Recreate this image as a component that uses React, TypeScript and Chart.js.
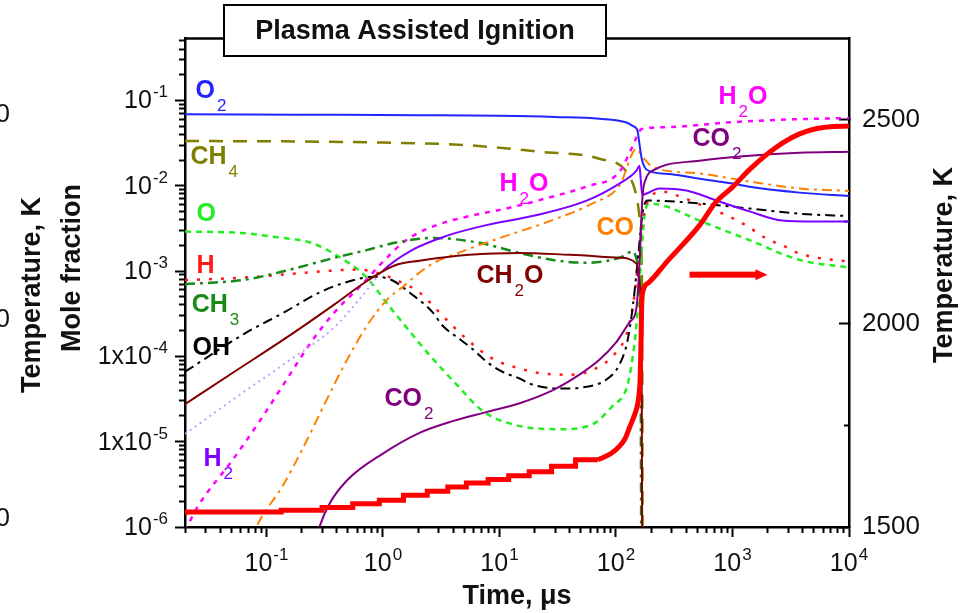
import { useEffect, useRef } from "react";
import { Chart, registerables } from "chart.js";

Chart.register(...registerables);

const FONT = "Arial, 'Liberation Sans', Helvetica, sans-serif";
const INK = "#111111";

type Pt = [number, number];

// Axis ranges: time in µs (log), mole fraction (log), temperature in K (linear)
const TIME_MIN = 0.02;
const TIME_MAX = 1e4;
const FRACTION_MIN = 1e-6;
const FRACTION_MAX = 0.53;
const TEMP_MIN = 1500;
const TEMP_MAX = 2700;

// Power-of-ten tick labels are written as base + superscript exponent
const timeTicks = [0.1, 1, 10, 100, 1000, 10000];
const timeTickBase = ["10", "10", "10", "10", "10", "10"];
const timeTickExp = ["-1", "0", "1", "2", "3", "4"];
const fractionTicks = [1e-6, 1e-5, 1e-4, 1e-3, 1e-2, 1e-1];
const fractionTickBase = ["10", "1x10", "1x10", "10", "10", "10"];
const fractionTickExp = ["-6", "-5", "-4", "-3", "-2", "-1"];
const tempTicks = [1500, 2000, 2500];
const tempTickLabels = ["1500", "2000", "2500"];
const tempMinorTicks = [1750, 2250];

// Species mole fractions: [time µs, mole fraction]
const o2: Pt[] = [
  [0.02, 0.069], [0.2, 0.068], [2, 0.067], [10, 0.066], [30, 0.064], [72, 0.061],
  [123, 0.055], [140, 0.05], [153, 0.044], [159, 0.031], [166, 0.021], [176, 0.0165],
  [194, 0.0148], [300, 0.0136], [521, 0.0121], [1000, 0.0106], [1400, 0.0097],
  [3760, 0.0083], [10000, 0.0076],
];
const ch4: Pt[] = [
  [0.02, 0.0334], [0.2, 0.033], [1, 0.032], [5, 0.03], [22, 0.025], [72, 0.0207],
  [126, 0.0139], [150, 0.0075], [159, 0.0044], [165, 0.0018], [168, 1e-4], [170, 1e-8],
];
const o: Pt[] = [
  [0.02, 0.0029], [0.06, 0.0028], [0.12, 0.0025], [0.243, 0.00214], [0.406, 0.00151],
  [0.693, 0.00089], [1.18, 0.00036], [1.47, 0.00025], [2.5, 0.000104], [4.27, 4.7e-5],
  [7.15, 2.3e-5], [12.9, 1.6e-5], [32.7, 1.4e-5], [62.8, 1.6e-5], [93, 2.6e-5],
  [123, 4.2e-5], [135, 7.5e-5], [145, 1.5e-4], [155, 4e-4], [165, 0.0015], [176, 0.0045],
  [194, 0.0062], [260, 0.0058], [521, 0.0039], [1400, 0.0023], [3760, 0.00135],
  [10000, 0.0011],
];
const h: Pt[] = [
  [0.02, 0.00078], [0.065, 0.00084], [0.143, 0.00091], [0.361, 0.00101], [0.604, 0.00104],
  [0.9, 0.00095], [1.31, 0.00078], [2.06, 0.00056], [3.24, 0.0003], [5.21, 0.00016],
  [8.71, 9.4e-5], [14.9, 7.2e-5], [23.4, 6.3e-5], [42.4, 6.1e-5], [76.6, 8e-5],
  [101, 0.000113], [123, 0.00018], [140, 0.0004], [155, 0.0012], [170, 0.004],
  [200, 0.0075], [250, 0.0085], [350, 0.0075], [636, 0.0054], [888, 0.0045],
  [1318, 0.0034], [1958, 0.0024], [2909, 0.0019], [3760, 0.0016], [5930, 0.0014],
  [10000, 0.0013],
];
const ch3: Pt[] = [
  [0.02, 0.0007], [0.065, 0.00079], [0.143, 0.001], [0.384, 0.00143], [0.736, 0.00177],
  [1.26, 0.00214], [2.66, 0.00244], [6.73, 0.00214], [14.9, 0.00163], [28.5, 0.00135],
  [55.8, 0.00125], [107, 0.00143], [140, 0.0017], [155, 0.0012], [162, 3e-4], [166, 1e-8],
];
const oh: Pt[] = [
  [0.02, 6.6e-5], [0.065, 1.85e-4], [0.143, 3.3e-4], [0.285, 5.6e-4], [0.5, 7.5e-4],
  [0.85, 8.6e-4], [1.2, 7.8e-4], [1.69, 5.6e-4], [2.66, 3.3e-4], [3.24, 2.3e-4],
  [4.53, 1.6e-4], [5.86, 1.22e-4], [7.8, 8.6e-5], [10.6, 6.6e-5], [14.9, 5.5e-5],
  [18.1, 4.8e-5], [32.7, 4.2e-5], [55.8, 4.4e-5], [83, 5.35e-5], [107, 8e-5],
  [125, 1.48e-4], [140, 4e-4], [155, 0.0015], [170, 0.005], [186, 0.0067],
  [521, 0.0062], [1400, 0.0054], [3760, 0.0047], [10000, 0.0044],
];
const h2: Pt[] = [
  [0.02, 1.23e-5], [0.053, 3.2e-5], [0.143, 8.2e-5], [0.384, 2.2e-4], [0.63, 4.7e-4],
  [1.0, 1.01e-3], [1.79, 1.77e-3], [3.5, 2.58e-3], [7.7, 3.45e-3], [20.5, 4.5e-3],
  [56, 6.7e-3], [107, 0.0106], [150, 0.015], [159, 0.0171], [163, 0.012], [168, 0.0078],
  [183, 0.0081], [236, 0.0093], [403, 0.0088], [729, 0.0067], [1400, 0.005],
  [2685, 0.0039], [5000, 0.0038], [10000, 0.0038],
];
// H2 is drawn dotted up to this time, solid afterwards
const h2DottedUntil = 1.0;
const h2o: Pt[] = [
  [0.02, 9e-7], [0.0255, 1.7e-6], [0.053, 6.5e-6], [0.091, 1.89e-5], [0.151, 5.5e-5],
  [0.243, 1.48e-4], [0.384, 3.29e-4], [0.65, 6.8e-4], [1.09, 1.45e-3], [1.59, 2.31e-3],
  [2.88, 3.45e-3], [5.5, 4.4e-3], [11.4, 5.4e-3], [25, 7.1e-3], [56, 9.8e-3],
  [107, 0.0145], [138, 0.0285], [166, 0.0461], [272, 0.0486], [1000, 0.0556],
  [3760, 0.0603], [10000, 0.062],
];
const co: Pt[] = [
  [0.07, 6e-7], [0.082, 1e-6], [0.091, 1.31e-6], [0.135, 2.9e-6], [0.2, 7.8e-6],
  [0.315, 2.75e-5], [0.467, 8e-5], [0.736, 2.33e-4], [1.09, 4.66e-4], [1.39, 6.1e-4],
  [2.5, 1.16e-3], [5.2, 1.77e-3], [11.4, 2.58e-3], [28.5, 3.95e-3], [62.8, 6.2e-3],
  [107, 0.01], [150, 0.027], [169, 0.0218], [206, 0.0167], [521, 0.0139],
  [1400, 0.0112], [3760, 0.0093], [10000, 0.0087],
];
const ch2o: Pt[] = [
  [0.02, 2.75e-5], [0.053, 6.6e-5], [0.143, 1.6e-4], [0.384, 4.07e-4], [0.736, 7.7e-4],
  [1.26, 1.16e-3], [2.06, 1.32e-3], [5.5, 1.55e-3], [14.9, 1.63e-3], [40, 1.55e-3],
  [107, 1.43e-3], [150, 1.22e-3], [159, 7.3e-4], [166, 1.1e-4], [169, 1e-8],
];
const co2: Pt[] = [
  [0.25, 5e-7], [0.285, 1e-6], [0.35, 1.9e-6], [0.5, 3.6e-6], [0.99, 7.2e-6],
  [2.06, 1.27e-5], [3.95, 1.74e-5], [7.7, 2.22e-5], [14.9, 2.82e-5], [28.5, 3.99e-5],
  [48.6, 6.1e-5], [72, 9.1e-5], [101, 1.48e-4], [131, 2.52e-4], [150, 3.76e-4],
  [159, 1.19e-3], [169, 7.5e-3], [181, 0.0121], [206, 0.015], [521, 0.0196],
  [1400, 0.0224], [3760, 0.0243], [10000, 0.025],
];

// Gas temperature, K: staircase before ignition, then the ignition rise
const tempStaircase: Pt[] = [
  [0.02, 1529], [0.134, 1537], [0.3, 1541], [0.55, 1548], [0.93, 1557], [1.5, 1566],
  [2.4, 1578], [3.6, 1588], [5.2, 1598], [8, 1608], [12, 1617], [18, 1626], [28, 1636],
  [45, 1649], [70, 1665],
];
const tempRise: Pt[] = [
  [70, 1665], [90, 1680], [107, 1698], [120, 1718], [131, 1745], [142, 1770], [150, 1790],
  [157, 1820], [161, 1860], [164, 1950], [166, 2040], [169, 2075], [190, 2100],
  [272, 2151], [521, 2241], [720, 2298], [1000, 2335], [1400, 2378], [1958, 2415],
  [2700, 2444], [3760, 2466], [5300, 2479], [7300, 2484], [10000, 2485],
];

// Arrow pointing at the temperature axis
const tempArrow = { from: 428, to: 1995, temp: 2120 };

const COLORS = {
  o2: "#2424ff",
  ch4: "#808000",
  o: "#22ee22",
  h: "#ff1a1a",
  ch3: "#178a17",
  oh: "#000000",
  h2: "#8000ff",
  h2Dotted: "#b7a3ff",
  h2o: "#ff00ff",
  co: "#ff8000",
  ch2o: "#800000",
  co2: "#800080",
  temp: "#ff0000",
};

type Label = { parts: [string, boolean][]; t: number; v: number; color: string };
// Species names placed at (time, mole fraction); "true" marks a subscript
const speciesLabels: Label[] = [
  { parts: [["O", false], ["2", true]], t: 0.0246, v: 0.108, color: COLORS.o2 },
  { parts: [["CH", false], ["4", true]], t: 0.0223, v: 0.0181, color: COLORS.ch4 },
  { parts: [["O", false]], t: 0.0251, v: 0.00385, color: COLORS.o },
  { parts: [["H", false]], t: 0.0251, v: 0.000957, color: COLORS.h },
  { parts: [["CH", false], ["3", true]], t: 0.0228, v: 0.000329, color: COLORS.ch3 },
  { parts: [["OH", false]], t: 0.0232, v: 0.000105, color: COLORS.oh },
  { parts: [["H", false], ["2", true]], t: 0.0288, v: 5.24e-6, color: COLORS.h2 },
  { parts: [["H", false], ["2", true], ["O", false]], t: 10, v: 0.00857, color: COLORS.h2o },
  { parts: [["H", false], ["2", true], ["O", false]], t: 759, v: 0.09, color: COLORS.h2o },
  { parts: [["CO", false], ["2", true]], t: 454, v: 0.0292, color: COLORS.co2 },
  { parts: [["CO", false]], t: 68, v: 0.00264, color: COLORS.co },
  { parts: [["CH", false], ["2", true], ["O", false]], t: 6.35, v: 0.00073, color: COLORS.ch2o },
  { parts: [["CO", false], ["2", true]], t: 1.03, v: 2.6e-5, color: COLORS.co2 },
];

function logMinorTicks(min: number, max: number): number[] {
  const out: number[] = [];
  for (let e = Math.floor(Math.log10(min)); e <= Math.ceil(Math.log10(max)); e++) {
    for (let m = 2; m <= 9; m++) {
      const v = m * Math.pow(10, e);
      if (v >= min * 0.999 && v <= max * 1.001) out.push(v);
    }
  }
  return out;
}

const toXY = (pts: Pt[]) => pts.map(([x, y]) => ({ x, y }));

function series(label: string, pts: Pt[], color: string, yAxisID: string, extra: any = {}) {
  return {
    label,
    data: toXY(pts),
    borderColor: color,
    backgroundColor: color,
    borderWidth: 2,
    pointRadius: 0,
    fill: false,
    cubicInterpolationMode: "monotone",
    xAxisID: "x",
    yAxisID,
    ...extra,
  };
}

const setTicks = (values: number[]) => (scale: any) => {
  scale.ticks = values.map((value) => ({ value }));
};

const tickGrid = (len: number) => ({
  drawOnChartArea: false,
  drawTicks: true,
  tickLength: len,
  tickWidth: 2,
  tickColor: "#000",
});

// "10" followed by a raised exponent
function drawPower(ctx: any, base: string, exp: string, x: number, y: number, align: "center" | "right") {
  ctx.font = `25px ${FONT}`;
  const wb = ctx.measureText(base).width;
  ctx.font = `17px ${FONT}`;
  const we = ctx.measureText(exp).width;
  const total = wb + 1 + we;
  const start = align === "center" ? x - total / 2 : x - total;
  ctx.font = `25px ${FONT}`;
  ctx.fillText(base, start, y);
  ctx.font = `17px ${FONT}`;
  ctx.fillText(exp, start + wb + 1, y - 11);
}

const speciesLabelPlugin = {
  id: "speciesLabels",
  beforeDatasetsDraw(chart: any) {
    const { ctx, scales } = chart;
    ctx.save();
    ctx.textAlign = "left";
    ctx.textBaseline = "alphabetic";
    for (const lab of speciesLabels) {
      let px = scales.x.getPixelForValue(lab.t);
      const py = scales.y.getPixelForValue(lab.v);
      ctx.fillStyle = lab.color;
      for (const [txt, sub] of lab.parts) {
        ctx.font = sub ? `17px ${FONT}` : `bold 25px ${FONT}`;
        ctx.fillText(txt, px, sub ? py + 13 : py);
        px += ctx.measureText(txt).width + (sub ? 0 : 2);
      }
    }
    ctx.restore();
  },
};

const decorPlugin = {
  id: "decor",
  afterDatasetsDraw(chart: any) {
    const { ctx, chartArea, scales } = chart;
    ctx.save();
    // top edge of the plot frame
    ctx.strokeStyle = "#000";
    ctx.lineWidth = 2.5;
    ctx.beginPath();
    ctx.moveTo(chartArea.left - 1, chartArea.top);
    ctx.lineTo(chartArea.right + 1, chartArea.top);
    ctx.stroke();

    // arrow towards the temperature axis
    const x1 = scales.x.getPixelForValue(tempArrow.from);
    const x2 = scales.x.getPixelForValue(tempArrow.to);
    const ya = scales.yT.getPixelForValue(tempArrow.temp);
    ctx.fillStyle = COLORS.temp;
    ctx.fillRect(x1, ya - 3, x2 - x1 - 10, 6);
    ctx.beginPath();
    ctx.moveTo(x2 - 12, ya - 5.5);
    ctx.lineTo(x2, ya);
    ctx.lineTo(x2 - 12, ya + 5.5);
    ctx.closePath();
    ctx.fill();
    ctx.restore();
  },
  afterDraw(chart: any) {
    const { ctx, scales } = chart;
    ctx.save();
    ctx.fillStyle = INK;
    ctx.textBaseline = "alphabetic";
    ctx.textAlign = "left";

    // tick labels of the two logarithmic axes
    timeTicks.forEach((v, i) => {
      drawPower(ctx, timeTickBase[i], timeTickExp[i], scales.x.getPixelForValue(v), 571, "center");
    });
    fractionTicks.forEach((v, i) => {
      drawPower(ctx, fractionTickBase[i], fractionTickExp[i], 168, scales.y.getPixelForValue(v) + 8, "right");
    });

    // title box
    ctx.fillStyle = "#fff";
    ctx.fillRect(224, 5, 382, 51);
    ctx.strokeStyle = "#000";
    ctx.lineWidth = 2;
    ctx.strokeRect(224, 5, 382, 51);
    ctx.fillStyle = INK;
    ctx.font = `bold 27px ${FONT}`;
    ctx.textAlign = "center";
    ctx.fillText("Plasma Assisted Ignition", 415, 39);

    // vertical axis titles (read bottom to top)
    const vtitle = (text: string, x: number, y: number) => {
      ctx.save();
      ctx.translate(x, y);
      ctx.rotate(-Math.PI / 2);
      ctx.fillText(text, 0, 0);
      ctx.restore();
    };
    vtitle("Mole fraction", 80, 268);
    vtitle("Temperature, K", 952, 265);
    // temperature axis of the neighbouring panel, cut at the page edge
    vtitle("Temperature, K", 40, 295);
    ctx.font = `26px ${FONT}`;
    ctx.textAlign = "right";
    ctx.textBaseline = "middle";
    ctx.fillText("2500", 10, 115);
    ctx.fillText("2000", 10, 320);
    ctx.fillText("1500", 10, 519);
    ctx.restore();
  },
};

function buildConfig(): any {
  const timeMinor = logMinorTicks(TIME_MIN, TIME_MAX);
  const fractionMinor = logMinorTicks(FRACTION_MIN, FRACTION_MAX);

  return {
    type: "line",
    data: {
      datasets: [
        series("T", tempStaircase, COLORS.temp, "yT", { borderWidth: 5, stepped: "after", cubicInterpolationMode: "default" }),
        series("T rise", tempRise, COLORS.temp, "yT", { borderWidth: 5 }),
        series("CO2", co2, COLORS.co2, "y"),
        series("CH2O", ch2o, COLORS.ch2o, "y"),
        series("O2", o2, COLORS.o2, "y"),
        series("H2", h2, COLORS.h2, "y", {
          segment: {
            borderColor: (c: any) => (h2[c.p1DataIndex][0] <= h2DottedUntil ? COLORS.h2Dotted : undefined),
            borderDash: (c: any) => (h2[c.p1DataIndex][0] <= h2DottedUntil ? [2, 4] : undefined),
          },
        }),
        series("CO", co, COLORS.co, "y", { borderDash: [10, 5, 3, 5] }),
        series("OH", oh, COLORS.oh, "y", { borderDash: [10, 5, 3, 5] }),
        series("CH3", ch3, COLORS.ch3, "y", { borderDash: [10, 5, 3, 5], borderWidth: 2.5 }),
        series("H", h, COLORS.h, "y", { borderDash: [3, 9], borderWidth: 2.5 }),
        series("O", o, COLORS.o, "y", { borderDash: [6, 5], borderWidth: 2.5 }),
        series("H2O", h2o, COLORS.h2o, "y", { borderDash: [5, 6], borderWidth: 2.5 }),
        series("CH4", ch4, COLORS.ch4, "y", { borderDash: [14, 10], borderWidth: 2.5 }),
      ],
    },
    options: {
      responsive: false,
      animation: false,
      devicePixelRatio: 1,
      events: [],
      layout: { padding: { top: 34, left: 0, right: 0, bottom: 0 } },
      plugins: { legend: { display: false }, tooltip: { enabled: false }, title: { display: false } },
      scales: {
        x: {
          type: "logarithmic",
          position: "bottom",
          min: TIME_MIN,
          max: TIME_MAX,
          weight: 1,
          afterBuildTicks: setTicks(timeTicks),
          afterFit: (s: any) => { s.height = 86; },
          ticks: { display: false, autoSkip: false, maxRotation: 0, minRotation: 0 },
          grid: tickGrid(10),
          border: { display: true, color: "#000", width: 2.5 },
          title: {
            display: true, text: "Time, μs", color: INK,
            font: { family: FONT, size: 27, weight: "bold" }, padding: { top: 0, bottom: 0 },
          },
        },
        xMinor: {
          type: "logarithmic",
          position: "bottom",
          display: true,
          min: TIME_MIN,
          max: TIME_MAX,
          weight: 0,
          afterBuildTicks: setTicks(timeMinor),
          afterFit: (s: any) => { s.height = 0; },
          ticks: { display: false, autoSkip: false },
          grid: tickGrid(6),
          border: { display: false },
        },
        y: {
          type: "logarithmic",
          position: "left",
          min: FRACTION_MIN,
          max: FRACTION_MAX,
          weight: 1,
          afterBuildTicks: setTicks(fractionTicks),
          afterFit: (s: any) => { s.width = 185; },
          ticks: { display: false, autoSkip: false },
          grid: tickGrid(10),
          border: { display: true, color: "#000", width: 2.5 },
        },
        yMinor: {
          type: "logarithmic",
          position: "left",
          display: true,
          min: FRACTION_MIN,
          max: FRACTION_MAX,
          weight: 0,
          afterBuildTicks: setTicks(fractionMinor),
          afterFit: (s: any) => { s.width = 0; },
          ticks: { display: false, autoSkip: false },
          grid: tickGrid(6),
          border: { display: false },
        },
        yT: {
          type: "linear",
          position: "right",
          min: TEMP_MIN,
          max: TEMP_MAX,
          weight: 1,
          afterBuildTicks: setTicks(tempTicks),
          afterFit: (s: any) => { s.width = 121; },
          ticks: {
            autoSkip: false, color: INK, font: { family: FONT, size: 26 }, padding: 23,
            callback: (_v: any, i: number) => tempTickLabels[i],
          },
          grid: tickGrid(-10),
          border: { display: true, color: "#000", width: 2.5 },
        },
        yTMinor: {
          type: "linear",
          position: "right",
          display: true,
          min: TEMP_MIN,
          max: TEMP_MAX,
          weight: 0,
          afterBuildTicks: setTicks(tempMinorTicks),
          afterFit: (s: any) => { s.width = 0; },
          ticks: { display: false, autoSkip: false },
          grid: tickGrid(-5),
          border: { display: false },
        },
      },
    },
    plugins: [speciesLabelPlugin, decorPlugin],
  };
}

export default function App() {
  const canvasRef = useRef<HTMLCanvasElement | null>(null);

  useEffect(() => {
    if (!canvasRef.current) return;
    const chart = new Chart(canvasRef.current, buildConfig());
    return () => chart.destroy();
  }, []);

  return (
    <div style={{ position: "absolute", left: 0, top: 0, width: 970, height: 613, background: "#fff" }}>
      <canvas ref={canvasRef} width={970} height={613} style={{ display: "block", width: 970, height: 613 }} />
    </div>
  );
}
